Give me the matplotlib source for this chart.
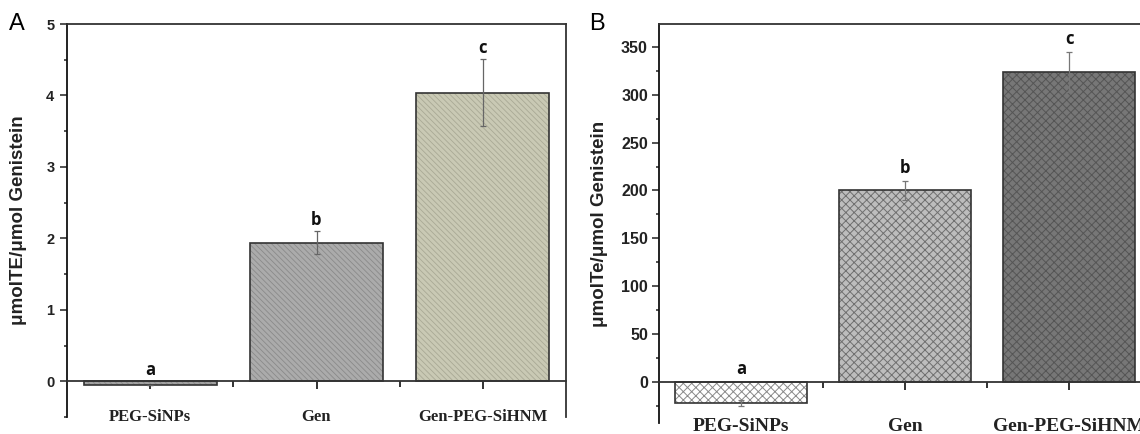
import matplotlib.pyplot as plt

categories = ['PEG-SiNPs', 'Gen', 'Gen-PEG-SiHNM']
letters = ['a', 'b', 'c']

te_values = [-0.05, 1.94, 4.04]
te_errors = [0.0, 0.16, 0.47]

te2_values = [-22, 200, 324]
te2_errors = [3, 10, 21]

W, H = 1140, 434
fig = plt.figure(figsize=(W / 100, H / 100), dpi=100)

sans = ['Liberation Sans', 'DejaVu Sans']
serif = ['Liberation Serif', 'DejaVu Serif']


def style_axes(ax, ylim, major, minor, tick_fs, pad):
    x = list(range(1, len(categories) + 1))
    ax.set_xlim(0.5, len(categories) + 0.5)
    ax.set_ylim(*ylim)
    # bottom axis sits on the zero line like in Origin
    ax.spines['bottom'].set_position(('data', 0))
    for side in ['left', 'right', 'top', 'bottom']:
        ax.spines[side].set_linewidth(1.3)
        ax.spines[side].set_color('#333333')
    ax.spines['left'].set_color('#111111')
    ax.set_xticks(x)
    ax.set_xticks([i + 0.5 for i in x[:-1]], minor=True)
    ax.set_xticklabels([])
    ax.set_yticks(major)
    ax.set_yticks(minor, minor=True)
    ax.tick_params(axis='x', which='major', direction='out', length=6, width=1.3, color='#222222')
    ax.tick_params(axis='x', which='minor', direction='out', length=4, width=1.3, color='#222222')
    ax.tick_params(axis='y', which='major', direction='out', length=5, width=1.1, pad=pad,
                   labelsize=tick_fs, color='#222222')
    ax.tick_params(axis='y', which='minor', direction='out', length=2.5, width=1.1, color='#222222')
    for lab in ax.get_yticklabels():
        lab.set_fontweight('bold')
        lab.set_family(sans)
        lab.set_color('#222222')
    return x


def draw_letters(ax, x, vals, errs, off):
    for xi, v, e, t in zip(x, vals, errs, letters):
        base = max(v + e, 0)
        ax.annotate(t, (xi, base), xytext=(0, off), textcoords='offset points',
                    ha='center', va='center', fontsize=12, fontweight='bold',
                    family=['Open Sans', 'DejaVu Sans'], color='#111111')


# ---- panel A
axA = fig.add_axes([67 / W, 1 - 417 / H, (566 - 67) / W, (417 - 24) / H])
xA = style_axes(axA, (-0.5, 5), [0, 1, 2, 3, 4, 5], [-0.5, 0.5, 1.5, 2.5, 3.5, 4.5], 10.5, 4)
colorsA = ['#a2a2a2', '#ababab', '#c9c9b4']
hatchA = ['#8c8c8c', '#8a8a8a', '#a9a995']
barsA = axA.bar(xA, te_values, width=0.8, color=colorsA, edgecolor='#333333', linewidth=1.2,
                hatch='\\\\\\\\\\\\', zorder=2)
for b, hc in zip(barsA, hatchA):
    b._hatch_color = plt.matplotlib.colors.to_rgba(hc)
    b.set_hatch_linewidth(0.6)
axA.errorbar(xA, te_values, yerr=te_errors, fmt='none', ecolor='#666666', elinewidth=0.9,
             capsize=2, capthick=0.9, zorder=3)
draw_letters(axA, xA, te_values, te_errors, 8)
for xi, c in zip(xA, categories):
    axA.text(xi, 0.0, c, transform=axA.get_xaxis_transform(), ha='center', va='center',
             fontsize=12, fontweight='bold', family=serif, color='#222222')
axA.set_ylabel('μmolTE/μmol Genistein', fontsize=13.5, fontweight='bold', family=sans,
               color='#222222')
axA.yaxis.set_label_coords((27 - 67) / (566 - 67), 0.5)
fig.text(17 / W, 1 - 24 / H, 'A', fontsize=17, family=sans, ha='center', va='center')

# ---- panel B (right side is cut off by the figure edge, as in the source figure)
axB = fig.add_axes([659 / W, 1 - 423 / H, (1151 - 659) / W, (423 - 24) / H])
xB = style_axes(axB, (-43, 374), list(range(0, 351, 50)), list(range(-25, 375, 50)), 11.5, 3)
colorsB = ['#ffffff', '#bdbdbd', '#777777']
hatchB = ['#8a8a8a', '#707070', '#555555']
barsB = axB.bar(xB, te2_values, width=0.8, color=colorsB, edgecolor='#333333', linewidth=1.2,
                hatch='xxxx', zorder=2)
for b, hc in zip(barsB, hatchB):
    b._hatch_color = plt.matplotlib.colors.to_rgba(hc)
    b.set_hatch_linewidth(0.7)
axB.errorbar(xB, te2_values, yerr=te2_errors, fmt='none', ecolor='#777777', elinewidth=0.9,
             capsize=2.5, capthick=0.9, zorder=3)
draw_letters(axB, xB, te2_values, te2_errors, 9.5)
for xi, c in zip(xB, categories):
    axB.text(xi, -0.01, c, transform=axB.get_xaxis_transform(), ha='center', va='center',
             fontsize=14, fontweight='bold', family=serif, color='#222222')
axB.set_ylabel('μmolTe/μmol Genistein', fontsize=13.5, fontweight='bold', family=sans,
               color='#222222')
axB.yaxis.set_label_coords((608 - 659) / (1151 - 659), 0.5)
fig.text(597 / W, 1 - 24 / H, 'B', fontsize=17, family=sans, ha='center', va='center')

fig.savefig('out.png', dpi=100)
